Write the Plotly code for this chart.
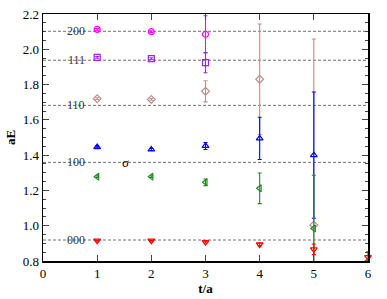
import plotly.graph_objects as go

t = [1, 2, 3, 4, 5, 6]

E_200 = [2.113, 2.100, 2.085]
err_200 = [0.005, 0.005, 0.105]
E_111 = [1.954, 1.947, 1.924]
err_111 = [0.005, 0.005, 0.057]
E_110 = [1.720, 1.716, 1.762, 1.830, 1.004]
err_110 = [0.005, 0.005, 0.060, 0.313, 1.054]
E_100 = [1.446, 1.432, 1.452, 1.495, 1.400]
err_100 = [0.005, 0.006, 0.020, 0.120, 0.358]
E_sig = [1.278, 1.278, 1.246, 1.212, 0.984, 0.800]
err_sig = [0.005, 0.005, 0.019, 0.087, 0.302, 0.0]
E_000 = [0.915, 0.915, 0.907, 0.894, 0.866, 0.822]
err_000 = [0.003, 0.003, 0.005, 0.007, 0.030, 0.030]

levels = [0.919, 1.359, 1.682, 1.938, 2.102]
level_labels = ["000", "100", "110", "111", "200"]
label_x = 0.61
sigma_pos = (1.52, 1.359)

x_ticks = [0, 1, 2, 3, 4, 5, 6]
y_ticks = [0.8, 1.0, 1.2, 1.4, 1.6, 1.8, 2.0, 2.2]

FONT = "Liberation Serif"

fig = go.Figure()

series = [
    (E_200, err_200, "#FF00FF", "circle-open", True),
    (E_111, err_111, "#A020F0", "square-open", True),
    (E_110, err_110, "#BC8F8F", "diamond-open", True),
    (E_100, err_100, "#0000FF", "triangle-up-open", True),
    (E_sig, err_sig, "#1E8B1E", "triangle-left-open", True),
    (E_000, err_000, "#FF0000", "triangle-down-open", False),
]

for ys, es, col, sym, clip in series:
    fig.add_trace(go.Scatter(
        x=t[:len(ys)], y=ys, mode="markers",
        marker=dict(symbol=sym, size=6, color=col, line=dict(width=1.2, color=col)),
        error_y=dict(type="data", array=es, visible=True, color=col, thickness=1.1, width=2),
        cliponaxis=clip, showlegend=False, hoverinfo="skip",
    ))

for lv, lab in zip(levels, level_labels):
    fig.add_shape(type="line", xref="x domain", x0=0, x1=1, yref="y", y0=lv, y1=lv,
                  line=dict(color="#707070", width=1, dash="3px,2px"), layer="below")
    fig.add_annotation(x=label_x, y=lv, text=lab, showarrow=False,
                       font=dict(family=FONT, size=12, color="#333333"))

fig.add_annotation(x=sigma_pos[0], y=sigma_pos[1], text="σ", showarrow=False,
                   font=dict(family=FONT, size=13, color="black"))

fig.update_layout(
    width=387, height=299,
    margin=dict(l=43, r=19, t=14, b=38),
    paper_bgcolor="white", plot_bgcolor="white",
    font=dict(family=FONT, size=13, color="black"),
)
fig.update_xaxes(
    range=[0, 6], tickvals=x_ticks, ticks="inside", ticklen=6, tickwidth=1,
    showline=True, linecolor="black", linewidth=1.5, mirror="ticks",
    showgrid=False, zeroline=False, automargin=False,
    title=dict(text="<b>t/a</b>", font=dict(family=FONT, size=13), standoff=2),
)
fig.update_yaxes(
    range=[0.8, 2.2], tickvals=y_ticks, tickformat=".1f", ticks="inside", ticklen=6, tickwidth=1,
    minor=dict(dtick=0.05, ticks="inside", ticklen=3, tickwidth=1, showgrid=False),
    showline=True, linecolor="black", linewidth=1.5, mirror="ticks",
    showgrid=False, zeroline=False, automargin=False,
    title=dict(text="<b>aE</b>", font=dict(family=FONT, size=13), standoff=4),
)

fig.write_html("out.html", config={"displayModeBar": False, "staticPlot": True})

with open("out.html", "r", encoding="utf-8") as f:
    html = f.read()
html = html.replace("<head>", "<head><style>html,body{margin:0;padding:0;overflow:hidden;}</style>", 1)
with open("out.html", "w", encoding="utf-8") as f:
    f.write(html)
